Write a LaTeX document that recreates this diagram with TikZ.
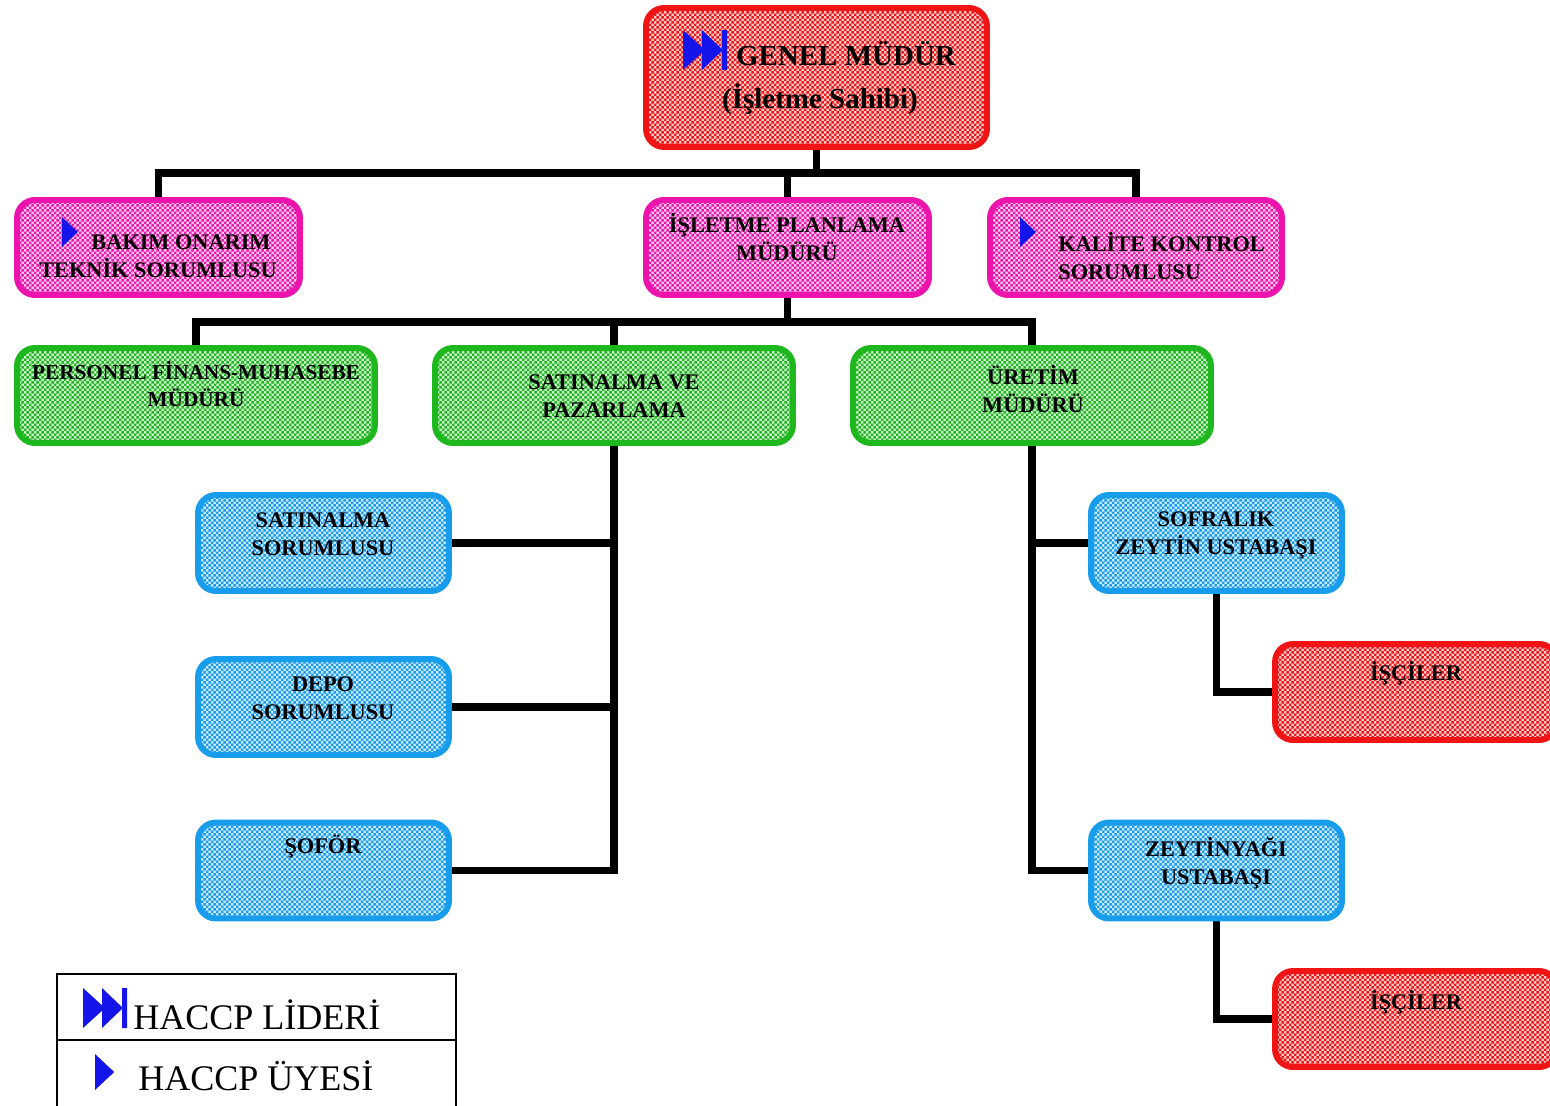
\documentclass[tikz,border=0pt]{standalone}
\usepackage{fontspec}
\setmainfont{Liberation Serif}
\usepackage{tikz}
\usetikzlibrary{patterns.meta,backgrounds}

\pgfdeclarepattern{
  name=finechecker,
  type=uncolored,
  bottom left={\pgfpoint{0pt}{0pt}},
  top right={\pgfpoint{2.8pt}{2.8pt}},
  tile size={\pgfpoint{2.8pt}{2.8pt}},
  code={
    \pgfpathrectangle{\pgfpointorigin}{\pgfpoint{1.4pt}{1.4pt}}
    \pgfpathrectangle{\pgfpoint{1.4pt}{1.4pt}}{\pgfpoint{1.4pt}{1.4pt}}
    \pgfusepath{fill}
  }
}

\definecolor{boxred}{RGB}{240,20,20}
\definecolor{boxpink}{RGB}{236,20,172}
\definecolor{boxgreen}{RGB}{30,184,30}
\definecolor{boxblue}{RGB}{24,156,236}
\definecolor{iconblue}{RGB}{20,20,235}

\tikzstyle{every node}=[inner sep=0pt]
\tikzstyle{redbox}=[draw=boxred,
                    line width=3.4pt,
                    rounded corners=0.36cm,
                    preaction={fill=boxred!22},
                    pattern=finechecker,
                    pattern color=boxred]
\tikzstyle{pinkbox}=[draw=boxpink,
                     line width=3.4pt,
                     rounded corners=0.36cm,
                     preaction={fill=boxpink!22},
                     pattern=finechecker,
                     pattern color=boxpink,
                     minimum height=1.9cm]
\tikzstyle{greenbox}=[draw=boxgreen,
                      line width=3.4pt,
                      rounded corners=0.36cm,
                      preaction={fill=boxgreen!22},
                      pattern=finechecker,
                      pattern color=boxgreen,
                      minimum width=7.16cm,
                      minimum height=1.9cm]
\tikzstyle{bluebox}=[draw=boxblue,
                     line width=3.4pt,
                     rounded corners=0.36cm,
                     preaction={fill=boxblue!22},
                     pattern=finechecker,
                     pattern color=boxblue,
                     minimum width=5.02cm,
                     minimum height=1.92cm]
\tikzstyle{boxtext}=[font=\fontsize{12.7}{16}\selectfont\bfseries, align=center]
\tikzstyle{bigtext}=[font=\fontsize{16.5}{25}\selectfont\bfseries, align=center]
\tikzstyle{legtext}=[font=\fontsize{20.5}{24}\selectfont]
\tikzstyle{conn}=[line width=4.5pt]
\tikzset{
  lider/.pic={\fill[iconblue] (0,0) -- (22,20) -- (0,40) -- cycle
                             (19,0) -- (40,20) -- (19,40) -- cycle
                             (39,0) rectangle (44,40);},
  uye/.pic={\fill[iconblue] (0,0) -- (16,15) -- (0,30) -- cycle;}
}

\begin{document}
\begin{tikzpicture}[x=0.02cm,y=-0.02cm]
\useasboundingbox (0,0) rectangle (1550,1105);

% boxes
\node (gm)   [redbox,minimum width=6.82cm,minimum height=2.78cm] at (816.5,77.5) {};
\node (bak)  [pinkbox,minimum width=5.66cm] at (158.5,247.5) {};
\node (isl)  [pinkbox,minimum width=5.66cm] at (787.5,247.5) {};
\node (kal)  [pinkbox,minimum width=5.84cm] at (1136,247.5) {};
\node (per)  [greenbox] at (196,395.5) {};
\node (sat)  [greenbox] at (614,395.5) {};
\node (ure)  [greenbox] at (1032,395.5) {};
\node (satS) [bluebox] at (323.5,543) {};
\node (dep)  [bluebox] at (323.5,707) {};
\node (sof)  [bluebox] at (323.5,870.5) {};
\node (sofr) [bluebox] at (1216.5,543) {};
\node (zey)  [bluebox] at (1216.5,870.5) {};
\node (isc1) [redbox,minimum width=5.64cm,minimum height=1.92cm] at (1416,692) {};
\node (isc2) [redbox,minimum width=5.64cm,minimum height=1.92cm] at (1416,1019) {};

% texts
\node (gm_t)   [bigtext] at (820,78) {\hspace*{1.04cm}GENEL MÜDÜR\\(İşletme Sahibi)};
\node (bak_t)  [boxtext] at (158,256) {\hspace*{0.92cm}BAKIM ONARIM\\TEKNİK SORUMLUSU};
\node (isl_t)  [boxtext] at (787,237) {İŞLETME PLANLAMA\\MÜDÜRÜ};
\node (kal_t)  [boxtext,align=left,anchor=west] at (1058,256) {KALİTE KONTROL\\SORUMLUSU};
\node (per_t)  [boxtext,font=\fontsize{12.1}{15}\selectfont\bfseries] at (196,384) {PERSONEL FİNANS-MUHASEBE\\MÜDÜRÜ};
\node (sat_t)  [boxtext] at (614,396) {SATINALMA VE\\PAZARLAMA};
\node (ure_t)  [boxtext] at (1033,389) {ÜRETİM\\MÜDÜRÜ};
\node (satS_t) [boxtext] at (323,534) {SATINALMA\\SORUMLUSU};
\node (dep_t)  [boxtext] at (323,698) {DEPO\\SORUMLUSU};
\node (sof_t)  [boxtext] at (323,847) {ŞOFÖR};
\node (sofr_t) [boxtext] at (1216,535) {SOFRALIK\\ZEYTİN USTABAŞI};
\node (zey_t)  [boxtext] at (1216,863) {ZEYTİNYAĞI\\USTABAŞI};
\node (isc1_t) [boxtext] at (1416,673) {İŞÇİLER};
\node (isc2_t) [boxtext] at (1416,1002) {İŞÇİLER};

% haccp marks
\pic at (683,30) {lider};
\pic at (62,217) {uye};
\pic at (1020,217) {uye};

% connectors
\begin{scope}[on background layer]
\coordinate (j1) at (816.5,173);
\coordinate (j2) at (787.5,322);
\draw[conn] (gm.south) -- (j1);
\draw[conn] (bak.north) |- (j1) -| (kal.north);
\draw[conn] (isl.north) -- (isl.north |- j1);
\draw[conn] (isl.south) -- (j2);
\draw[conn] (per.north) |- (j2) -| (ure.north);
\draw[conn] (sat.north) -- (sat.north |- j2);
\draw[conn] (sat.south) |- (sof.east);
\draw[conn] (satS.east) -- (satS.east -| sat.south);
\draw[conn] (dep.east) -- (dep.east -| sat.south);
\draw[conn] (ure.south) |- (zey.west);
\draw[conn] (sofr.west) -- (sofr.west -| ure.south);
\draw[conn] (sofr.south) |- (isc1.west);
\draw[conn] (zey.south) |- (isc2.west);
\end{scope}

% legend
\draw[line width=1.2pt] (57,974) rectangle (456,1112);
\draw[line width=1.2pt] (57,1040) -- (456,1040);
\pic at (83,988) {lider};
\pic[scale=1.2] at (95,1054) {uye};
\node (lid_t) [legtext,anchor=base west] at (133,1029) {HACCP LİDERİ};
\node (uye_t) [legtext,anchor=base west] at (138,1090) {HACCP ÜYESİ};
\end{tikzpicture}
\end{document}
